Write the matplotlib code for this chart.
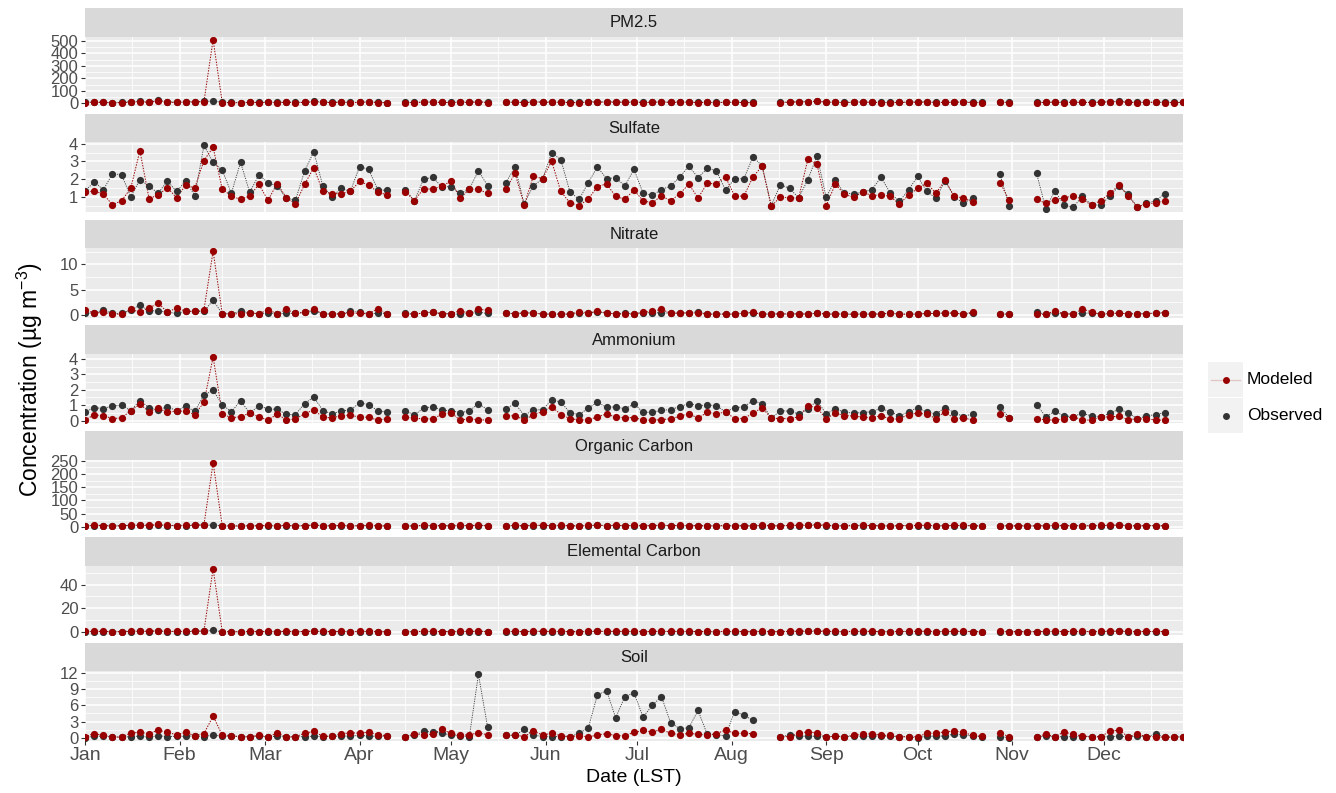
"""
Daily speciated PM2.5 at the monitoring site: modeled vs observed,
one facet per species, 1-in-3 day sampling schedule.
"""

import numpy as np
import pandas as pd

import matplotlib.pyplot as plt
import matplotlib.dates as mdates

from matplotlib.ticker import MultipleLocator
from matplotlib.patches import Rectangle
from matplotlib.lines import Line2D

# ------------------------------------------------------------
# Global plotting style
# ------------------------------------------------------------

plt.rcParams["font.family"] = ["Liberation Sans", "DejaVu Sans"]
plt.rcParams["mathtext.fontset"] = "custom"
plt.rcParams["mathtext.rm"] = "Liberation Sans"
plt.rcParams["mathtext.it"] = "Liberation Sans:italic"

PANEL_GREY = "#EBEBEB"
STRIP_GREY = "#D9D9D9"
KEY_GREY = "#F2F2F2"
TICK_TEXT = "#4D4D4D"

MOD_COLOR = "#990000"
OBS_COLOR = "#333333"

nan = float("nan")

# ------------------------------------------------------------
# Data (ug m-3), one sample every third day from 1 Jan
# ------------------------------------------------------------

sample_dates = pd.date_range("2011-01-01", "2011-12-27", freq="3D")

pm25_obs = [
    8, 12, 10, 7, 9, 14, 16, 11, 26, 13,
    10, 12, 15, 18, 18, 9, 8, 7, 10, 9,
    11, 8, 12, 9, 10, 16, 11, 9, 12, 8,
    10, 13, 9, 7, nan, 9, 8, 12, 11, 10,
    9, 12, 10, 14, 9, nan, 10, 11, 9, 12,
    13, 10, 11, 9, 8, 12, 14, 11, 13, 10,
    12, 9, 11, 13, 10, 12, 11, 9, 10, 8,
    11, 10, 9, 8, nan, nan, 9, 12, 14, 15,
    20, 12, 10, 9, 11, 13, 10, 9, 8, 10,
    11, 12, 13, 9, 10, 11, 12, 9, 8, nan,
    10, 9, nan, nan, 8, 10, 12, 9, 11, 10,
    9, 12, 14, 16, 11, 9, 10, 11, 9, 8,
    10,
]
pm25_mod = [
    7, 9, 8, 5, 6, 11, 13, 9, 20, 10,
    8, 10, 12, 14, 510, 7, 6, 5, 8, 7,
    9, 6, 10, 7, 8, 13, 9, 7, 10, 6,
    8, 11, 7, 6, nan, 7, 6, 10, 9, 8,
    7, 10, 8, 12, 7, nan, 8, 9, 7, 10,
    11, 8, 9, 7, 6, 10, 12, 9, 11, 8,
    10, 7, 9, 11, 8, 10, 9, 7, 8, 6,
    9, 8, 7, 6, nan, nan, 7, 10, 12, 13,
    16, 10, 8, 7, 9, 11, 8, 7, 6, 8,
    9, 10, 11, 7, 8, 9, 10, 7, 6, nan,
    8, 7, nan, nan, 6, 8, 10, 7, 9, 8,
    7, 10, 12, 14, 9, 7, 8, 9, 7, 6,
    8,
]

sulfate_obs = [
    1.30, 1.86, 1.39, 2.30, 2.25, 1.00, 1.97, 1.60, 1.20, 1.90,
    1.30, 1.90, 1.07, 3.90, 2.95, 2.50, 1.20, 2.95, 1.25, 2.23,
    1.80, 1.60, 0.93, 0.80, 2.45, 3.55, 1.60, 1.00, 1.48, 1.30,
    2.70, 2.55, 1.39, 1.37, nan, 1.39, 0.78, 1.99, 2.10, 1.56,
    1.58, 1.19, 1.43, 2.47, 1.63, nan, 1.80, 2.68, 0.60, 1.63,
    2.00, 3.48, 3.10, 1.28, 0.85, 1.80, 2.69, 2.02, 2.08, 1.61,
    2.56, 1.19, 1.09, 1.41, 1.60, 2.12, 2.73, 2.08, 2.60, 2.47,
    1.37, 2.02, 2.02, 3.25, 2.75, 0.50, 1.69, 1.47, 0.94, 1.97,
    3.31, 0.98, 1.93, 1.20, 1.17, 1.25, 1.41, 2.10, 1.22, 0.74,
    1.39, 2.15, 1.30, 0.93, 1.90, 1.00, 0.63, 0.93, nan, nan,
    2.27, 0.48, nan, nan, 2.32, 0.33, 1.35, 0.53, 0.40, 1.04,
    0.55, 0.53, 1.04, 1.60, 1.15, 0.42, 0.63, 0.78, 1.17, nan,
    nan,
]
sulfate_mod = [
    1.25, 1.33, 1.15, 0.55, 0.78, 1.48, 3.60, 0.90, 1.10, 1.52,
    0.95, 1.65, 1.50, 3.05, 3.80, 1.43, 1.05, 0.85, 1.05, 1.70,
    0.80, 1.75, 0.95, 0.60, 1.70, 2.65, 1.30, 1.18, 1.18, 1.30,
    1.87, 1.65, 1.28, 1.10, nan, 1.28, 0.78, 1.46, 1.43, 1.60,
    1.89, 0.91, 1.43, 1.43, 1.19, nan, 1.43, 2.32, 0.53, 2.17,
    2.02, 3.01, 1.30, 0.66, 0.50, 0.87, 1.58, 1.73, 1.02, 0.87,
    1.37, 0.78, 0.65, 1.06, 0.78, 1.17, 1.71, 0.93, 1.76, 1.73,
    2.12, 1.04, 1.04, 2.12, 2.73, 0.46, 1.00, 0.94, 0.94, 3.12,
    2.84, 0.50, 1.71, 1.15, 0.96, 1.28, 1.06, 1.11, 1.02, 0.59,
    1.09, 1.47, 1.76, 1.20, 1.93, 1.02, 0.94, 0.70, nan, nan,
    1.80, 0.81, nan, nan, 0.85, 0.63, 0.83, 0.93, 1.06, 0.85,
    0.53, 0.78, 1.19, 1.65, 1.04, 0.42, 0.59, 0.66, 0.76, nan,
    nan,
]

nitrate_obs = [
    0.30, 0.40, 0.93, 0.26, 0.30, 0.90, 1.92, 0.80, 0.80, 0.53,
    0.26, 0.73, 0.66, 0.66, 2.91, 0.20, 0.20, 0.66, 0.40, 0.20,
    0.40, 0.20, 0.26, 0.33, 0.46, 0.73, 0.20, 0.15, 0.20, 0.66,
    0.53, 0.20, 0.33, 0.20, nan, 0.33, 0.10, 0.40, 0.50, 0.20,
    0.20, 0.13, 0.26, 0.53, 0.26, nan, 0.35, 0.20, 0.40, 0.33,
    0.15, 0.15, 0.15, 0.15, 0.26, 0.40, 0.50, 0.40, 0.15, 0.40,
    0.15, 0.45, 0.40, 0.40, 0.33, 0.33, 0.40, 0.60, 0.15, 0.15,
    0.15, 0.15, 0.33, 0.40, 0.15, 0.15, 0.20, 0.15, 0.20, 0.15,
    0.30, 0.15, 0.20, 0.15, 0.12, 0.18, 0.15, 0.20, 0.30, 0.15,
    0.12, 0.15, 0.26, 0.26, 0.35, 0.30, 0.15, 0.26, nan, nan,
    0.15, 0.15, nan, nan, 0.53, 0.10, 0.26, 0.20, 0.15, 0.26,
    0.40, 0.10, 0.26, 0.30, 0.20, 0.20, 0.20, 0.35, 0.35, nan,
    nan,
]
nitrate_mod = [
    0.95, 0.40, 0.46, 0.13, 0.13, 1.06, 0.53, 1.32, 2.32, 0.53,
    1.32, 0.73, 0.66, 1.00, 12.60, 0.20, 0.20, 0.20, 0.40, 0.20,
    1.00, 0.20, 1.06, 0.33, 0.46, 1.06, 0.20, 0.13, 0.20, 0.40,
    0.26, 0.20, 1.19, 0.20, nan, 0.20, 0.07, 0.40, 0.53, 0.20,
    0.20, 0.83, 0.26, 1.06, 0.93, nan, 0.40, 0.20, 0.40, 0.33,
    0.13, 0.13, 0.13, 0.13, 0.60, 0.40, 0.66, 0.40, 0.13, 0.13,
    0.13, 0.53, 0.73, 1.06, 0.33, 0.33, 0.40, 0.33, 0.13, 0.13,
    0.13, 0.13, 0.33, 0.46, 0.13, 0.13, 0.20, 0.13, 0.20, 0.13,
    0.33, 0.13, 0.13, 0.13, 0.10, 0.13, 0.13, 0.13, 0.33, 0.13,
    0.10, 0.13, 0.26, 0.26, 0.40, 0.33, 0.13, 0.53, nan, nan,
    0.13, 0.13, nan, nan, 0.13, 0.07, 0.80, 0.20, 0.13, 1.13,
    0.60, 0.07, 0.26, 0.33, 0.20, 0.20, 0.20, 0.40, 0.40, nan,
    nan,
]

ammonium_obs = [
    0.56, 0.84, 0.78, 0.95, 0.99, 0.65, 1.30, 0.84, 0.67, 0.91,
    0.63, 0.93, 0.60, 1.66, 1.97, 1.04, 0.56, 1.30, 0.48, 0.95,
    0.76, 0.73, 0.41, 0.39, 1.10, 1.53, 0.65, 0.43, 0.63, 0.69,
    1.14, 1.04, 0.63, 0.56, nan, 0.63, 0.37, 0.80, 0.91, 0.67,
    0.65, 0.50, 0.63, 1.10, 0.71, nan, 0.76, 1.12, 0.32, 0.71,
    0.69, 1.34, 1.21, 0.52, 0.39, 0.80, 1.19, 0.86, 0.89, 0.76,
    1.08, 0.54, 0.54, 0.67, 0.71, 0.91, 1.10, 0.97, 1.02, 0.97,
    0.56, 0.84, 0.89, 1.30, 1.10, 0.15, 0.65, 0.60, 0.43, 0.73,
    1.30, 0.43, 0.76, 0.54, 0.48, 0.52, 0.58, 0.80, 0.56, 0.32,
    0.56, 0.84, 0.54, 0.43, 0.84, 0.52, 0.26, 0.43, nan, nan,
    0.89, 0.19, nan, nan, 1.02, 0.26, 0.60, 0.30, 0.26, 0.48,
    0.30, 0.22, 0.48, 0.73, 0.52, 0.11, 0.30, 0.39, 0.52, nan,
    nan,
]
ammonium_mod = [
    0.04, 0.37, 0.32, 0.13, 0.17, 0.65, 1.06, 0.58, 0.80, 0.54,
    0.63, 0.60, 0.39, 1.19, 4.13, 0.45, 0.17, 0.26, 0.48, 0.24,
    0.02, 0.43, 0.04, 0.09, 0.45, 0.69, 0.22, 0.17, 0.32, 0.35,
    0.22, 0.22, 0.02, 0.13, nan, 0.22, 0.15, 0.11, 0.11, 0.41,
    0.52, 0.02, 0.11, 0.04, 0.04, nan, 0.30, 0.32, 0.04, 0.37,
    0.58, 0.91, 0.39, 0.13, 0.04, 0.04, 0.24, 0.43, 0.22, 0.19,
    0.19, 0.04, 0.02, 0.06, 0.11, 0.28, 0.45, 0.15, 0.54, 0.43,
    0.56, 0.13, 0.13, 0.48, 0.84, 0.15, 0.13, 0.13, 0.24, 0.95,
    0.84, 0.11, 0.50, 0.32, 0.30, 0.22, 0.19, 0.32, 0.09, 0.11,
    0.39, 0.48, 0.41, 0.13, 0.58, 0.11, 0.19, 0.02, nan, nan,
    0.41, 0.19, nan, nan, 0.09, 0.06, 0.02, 0.13, 0.26, 0.02,
    0.04, 0.22, 0.24, 0.28, 0.06, 0.11, 0.11, 0.04, 0.02, nan,
    nan,
]

oc_obs = [
    3.5, 4.2, 3.8, 2.9, 3.1, 4.6, 5.2, 3.9, 6.8, 4.4,
    3.6, 4.1, 5.0, 5.8, 6.2, 3.2, 2.9, 2.6, 3.4, 3.1,
    3.8, 2.8, 4.0, 3.0, 3.3, 5.1, 3.7, 3.0, 3.9, 2.8,
    3.4, 4.3, 3.1, 2.7, nan, 3.0, 2.8, 4.0, 3.7, 3.4,
    3.1, 4.0, 3.5, 4.6, 3.2, nan, 3.6, 3.8, 3.1, 4.1,
    4.3, 3.6, 3.9, 3.2, 2.9, 4.0, 4.7, 3.8, 4.4, 3.5,
    4.1, 3.2, 3.7, 4.4, 3.5, 4.0, 3.8, 3.2, 3.5, 2.9,
    3.8, 3.4, 3.1, 2.9, 4.5, 3.0, 3.3, 4.0, 4.6, 5.0,
    6.2, 4.1, 3.5, 3.2, 3.8, 4.3, 3.6, 3.2, 2.9, 3.4,
    3.7, 4.0, 4.4, 3.2, 3.5, 3.8, 4.1, 3.2, 2.9, nan,
    3.4, 3.1, 2.8, 3.0, 2.7, 3.4, 4.0, 3.1, 3.7, 3.4,
    3.1, 4.0, 4.6, 5.3, 3.7, 3.1, 3.4, 3.7, 3.1, nan,
    nan,
]
oc_mod = [
    4.1, 5.3, 4.6, 3.2, 3.6, 6.0, 7.1, 4.8, 8.9, 5.4,
    4.4, 5.2, 6.3, 7.6, 242.0, 3.9, 3.4, 3.0, 4.2, 3.7,
    4.9, 3.3, 5.1, 3.6, 4.0, 6.8, 4.5, 3.6, 4.8, 3.2,
    4.2, 5.6, 3.7, 3.1, nan, 3.5, 3.2, 5.0, 4.6, 4.1,
    3.7, 5.1, 4.3, 6.0, 3.8, nan, 4.4, 4.7, 3.6, 5.2,
    5.5, 4.3, 4.8, 3.8, 3.3, 5.0, 6.1, 4.6, 5.5, 4.2,
    5.2, 3.8, 4.5, 5.6, 4.2, 5.0, 4.6, 3.8, 4.2, 3.4,
    4.6, 4.1, 3.6, 3.4, 5.8, 3.5, 3.9, 5.0, 5.9, 6.4,
    8.1, 5.2, 4.3, 3.8, 4.6, 5.4, 4.3, 3.8, 3.4, 4.1,
    4.5, 5.0, 5.6, 3.8, 4.2, 4.7, 5.2, 3.8, 3.4, nan,
    4.1, 3.7, 3.3, 3.5, 3.2, 4.1, 5.0, 3.7, 4.5, 4.1,
    3.7, 5.0, 5.9, 6.9, 4.5, 3.7, 4.1, 4.5, 3.7, nan,
    nan,
]

ec_obs = [
    0.45, 0.52, 0.48, 0.35, 0.38, 0.60, 0.70, 0.50, 0.95, 0.58,
    0.46, 0.54, 0.66, 0.80, 1.50, 0.40, 0.36, 0.32, 0.44, 0.40,
    0.50, 0.34, 0.52, 0.38, 0.42, 0.68, 0.48, 0.38, 0.50, 0.35,
    0.44, 0.56, 0.40, 0.34, nan, 0.38, 0.35, 0.52, 0.48, 0.44,
    0.40, 0.52, 0.45, 0.60, 0.41, nan, 0.46, 0.49, 0.40, 0.53,
    0.56, 0.46, 0.50, 0.41, 0.37, 0.52, 0.62, 0.49, 0.57, 0.45,
    0.53, 0.41, 0.48, 0.57, 0.45, 0.52, 0.49, 0.41, 0.45, 0.37,
    0.49, 0.44, 0.40, 0.37, 0.59, 0.38, 0.42, 0.52, 0.60, 0.66,
    0.84, 0.53, 0.45, 0.41, 0.49, 0.56, 0.46, 0.41, 0.37, 0.44,
    0.48, 0.52, 0.58, 0.41, 0.45, 0.49, 0.54, 0.41, 0.37, nan,
    0.44, 0.40, 0.36, 0.38, 0.35, 0.44, 0.52, 0.40, 0.48, 0.44,
    0.40, 0.52, 0.60, 0.70, 0.48, 0.40, 0.44, 0.48, 0.40, nan,
    nan,
]
ec_mod = [
    0.62, 0.78, 0.70, 0.48, 0.54, 0.88, 1.05, 0.72, 1.35, 0.82,
    0.66, 0.78, 0.95, 1.15, 53.3, 0.58, 0.50, 0.45, 0.62, 0.55,
    0.72, 0.48, 0.76, 0.54, 0.60, 1.00, 0.68, 0.54, 0.72, 0.48,
    0.62, 0.84, 0.56, 0.46, nan, 0.52, 0.48, 0.74, 0.68, 0.60,
    0.55, 0.75, 0.64, 0.88, 0.57, nan, 0.66, 0.70, 0.54, 0.78,
    0.82, 0.64, 0.72, 0.57, 0.50, 0.75, 0.90, 0.70, 0.82, 0.64,
    0.78, 0.57, 0.68, 0.84, 0.64, 0.75, 0.70, 0.57, 0.64, 0.50,
    0.70, 0.62, 0.55, 0.50, 0.86, 0.52, 0.58, 0.75, 0.88, 0.98,
    1.25, 0.78, 0.64, 0.57, 0.70, 0.82, 0.66, 0.57, 0.50, 0.62,
    0.68, 0.75, 0.85, 0.57, 0.64, 0.72, 0.80, 0.57, 0.50, nan,
    0.62, 0.55, 0.49, 0.52, 0.48, 0.62, 0.75, 0.55, 0.68, 0.62,
    0.55, 0.75, 0.88, 1.05, 0.68, 0.55, 0.62, 0.68, 0.55, nan,
    nan,
]

soil_obs = [
    0.00, 0.25, 0.30, 0.10, 0.10, 0.18, 0.30, 0.06, 0.37, 0.18,
    0.25, 0.25, 0.37, 0.18, 0.49, 0.25, 0.30, 0.15, 0.15, 0.30,
    0.10, 0.30, 0.10, 0.15, 0.18, 0.25, 0.20, 0.25, 0.30, 0.30,
    0.43, 0.30, 0.25, 0.30, nan, 0.15, 0.49, 1.17, 1.05, 0.80,
    0.50, 0.37, 0.18, 11.75, 1.97, nan, 0.40, 0.40, 1.54, 0.49,
    0.18, 0.18, 0.20, 0.15, 0.86, 1.78, 7.94, 8.74, 3.69, 7.63,
    8.31, 3.82, 6.03, 7.63, 2.77, 1.66, 1.85, 5.05, 0.62, 0.50,
    0.37, 4.86, 4.18, 3.20, nan, nan, 0.15, 0.49, 0.25, 0.30,
    0.25, 0.10, 0.25, 0.15, 0.30, 0.25, 0.30, 0.30, 0.30, 0.15,
    0.15, 0.00, 0.25, 0.30, 0.30, 0.68, 0.55, 0.30, 0.20, nan,
    0.18, 0.00, nan, nan, 0.15, 0.25, 0.15, 0.18, 0.18, 0.20,
    0.15, 0.15, 0.18, 0.25, 0.15, 0.30, 0.15, 0.68, 0.10, 0.10,
    0.15,
]
soil_mod = [
    0.20, 0.74, 0.43, 0.12, 0.12, 0.86, 0.98, 0.74, 1.42, 0.98,
    0.55, 0.98, 0.37, 0.74, 4.00, 0.49, 0.37, 0.18, 0.18, 0.43,
    0.12, 0.86, 0.12, 0.18, 0.80, 1.17, 0.25, 0.30, 0.68, 0.92,
    0.80, 1.05, 0.55, 0.37, nan, 0.18, 0.74, 0.49, 0.68, 1.54,
    0.80, 0.43, 0.55, 0.86, 0.55, nan, 0.49, 0.49, 0.18, 1.23,
    0.49, 0.80, 0.37, 0.18, 0.37, 0.12, 0.49, 0.74, 0.37, 0.37,
    0.98, 1.35, 1.05, 1.54, 0.80, 0.55, 0.80, 0.62, 0.49, 0.74,
    1.42, 0.80, 0.80, 0.74, nan, nan, 0.18, 0.18, 0.80, 1.11,
    0.86, 0.12, 0.30, 0.18, 0.43, 0.62, 0.74, 0.43, 0.43, 0.18,
    0.18, 0.18, 0.80, 0.80, 1.11, 1.23, 0.98, 0.43, 0.30, nan,
    0.86, 0.18, nan, nan, 0.18, 0.62, 0.18, 1.05, 0.62, 0.30,
    0.18, 0.18, 1.17, 1.42, 0.18, 0.68, 0.18, 0.18, 0.06, 0.12,
    0.18,
]

species = ["PM2.5", "Sulfate", "Nitrate", "Ammonium",
           "Organic Carbon", "Elemental Carbon", "Soil"]
observed = [pm25_obs, sulfate_obs, nitrate_obs, ammonium_obs,
            oc_obs, ec_obs, soil_obs]
modeled = [pm25_mod, sulfate_mod, nitrate_mod, ammonium_mod,
           oc_mod, ec_mod, soil_mod]
y_steps = [100, 1, 5, 1, 50, 20, 3]

# ------------------------------------------------------------
# Facet layout (pixels on a 1336 x 793 canvas)
# ------------------------------------------------------------

W, H = 1336, 793

PANEL_X0 = 85
PANEL_X1 = 1183
FACET_TOP = 8
FACET_STEP = 105.8
STRIP_H = 28.5
PANEL_H = 69.5


def fig_box(x0, top, width, height):
    return [x0 / W, 1 - (top + height) / H, width / W, height / H]


month_starts = pd.date_range("2011-01-01", "2012-01-01", freq="MS")
mid_months = month_starts[:-1] + (month_starts[1:] - month_starts[:-1]) / 2

fig = plt.figure(figsize=(W / 100, H / 100), dpi=100)

dotted = (0, (1.4, 1.4))

for i, name in enumerate(species):

    top = FACET_TOP + FACET_STEP * i

    strip = fig.add_axes(fig_box(PANEL_X0, top, PANEL_X1 - PANEL_X0, STRIP_H))
    strip.set_facecolor(STRIP_GREY)
    strip.set_xticks([])
    strip.set_yticks([])
    for spine in strip.spines.values():
        spine.set_visible(False)
    strip.text(0.5, 0.48, name, ha="center", va="center",
               fontsize=12, color="#1A1A1A", transform=strip.transAxes)

    ax = fig.add_axes(fig_box(PANEL_X0, top + STRIP_H,
                              PANEL_X1 - PANEL_X0, PANEL_H))
    ax.set_facecolor(PANEL_GREY)
    for spine in ax.spines.values():
        spine.set_visible(False)

    obs = np.array(observed[i], dtype=float)
    mod = np.array(modeled[i], dtype=float)

    ax.plot(sample_dates, obs, color=OBS_COLOR, lw=0.6, ls=dotted, zorder=2)
    ax.plot(sample_dates, mod, color=MOD_COLOR, lw=0.7, ls=dotted, zorder=2)
    ax.plot(sample_dates, obs, "o", ms=5.2, color=OBS_COLOR, mec="none", zorder=3)
    ax.plot(sample_dates, mod, "o", ms=5.2, color=MOD_COLOR, mec="none", zorder=4)

    ax.set_xlim(sample_dates[0], sample_dates[-1])
    ax.margins(y=0.05)

    ax.xaxis.set_major_locator(mdates.MonthLocator())
    ax.xaxis.set_major_formatter(mdates.DateFormatter("%b"))
    ax.set_xticks(mid_months, minor=True)

    ax.yaxis.set_major_locator(MultipleLocator(y_steps[i]))
    ax.yaxis.set_minor_locator(MultipleLocator(y_steps[i] / 2))

    ax.set_axisbelow(True)
    ax.grid(which="major", color="white", lw=1.1)
    ax.grid(which="minor", color="white", lw=0.55)

    ax.tick_params(which="minor", length=0)
    ax.tick_params(axis="y", which="major", length=2.8, width=0.8,
                   color=OBS_COLOR, labelcolor=TICK_TEXT,
                   labelsize=12, pad=2)

    if i == len(species) - 1:
        ax.tick_params(axis="x", which="major", length=2.8, width=0.8,
                       color=OBS_COLOR, labelcolor=TICK_TEXT,
                       labelsize=14, pad=1.5)
    else:
        ax.tick_params(axis="x", which="major", length=0, labelbottom=False)

# ------------------------------------------------------------
# Axis titles
# ------------------------------------------------------------

fig.text((PANEL_X0 + PANEL_X1) / 2 / W, 1 - 778 / H, "Date (LST)",
         ha="center", va="center", fontsize=14)

fig.text(30 / W, 1 - 380 / H, "Concentration (µg m$^{-3}$)",
         ha="center", va="center", rotation=90, fontsize=16.5)

# ------------------------------------------------------------
# Legend
# ------------------------------------------------------------

key_x0, key_w, key_h = 1208, 35, 35
key_tops = [362, 398]
labels = ["Modeled", "Observed"]
colors = [MOD_COLOR, OBS_COLOR]

for top, label, color in zip(key_tops, labels, colors):
    fig.add_artist(Rectangle((key_x0 / W, 1 - (top + key_h) / H),
                             key_w / W, key_h / H,
                             transform=fig.transFigure,
                             facecolor=KEY_GREY, edgecolor="none"))
    cy = 1 - (top + key_h / 2) / H
    if label == "Modeled":
        fig.add_artist(Line2D([(key_x0 + 3) / W, (key_x0 + key_w - 3) / W],
                              [cy, cy], transform=fig.transFigure,
                              color="#E2C4C4", lw=0.9))
    fig.add_artist(Line2D([(key_x0 + key_w / 2) / W], [cy],
                          transform=fig.transFigure, marker="o", ms=5,
                          color=color, mec="none", ls="none"))
    fig.text((key_x0 + key_w + 4) / W, cy, label,
             ha="left", va="center", fontsize=12.5)

fig.savefig("out.png", dpi=100)
plt.close(fig)
